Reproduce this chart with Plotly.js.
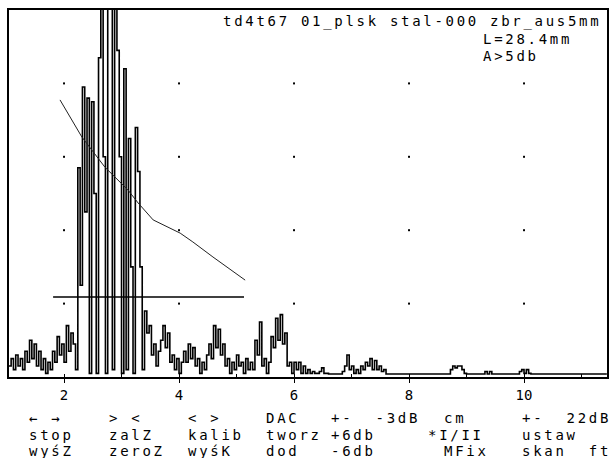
<!DOCTYPE html>
<html>
<head>
<meta charset="utf-8">
<script src="https://cdn.plot.ly/plotly-3.0.1.min.js"></script>
<style>
  html, body { margin:0; padding:0; background:#fff; }
  #chart { width:611px; height:458px; }
  .annotation-text { letter-spacing: 2.7px; }
</style>
</head>
<body>
<div id="chart"></div>
<script>
// ---- data ----
const sampleStart = 1.04;   // first sample position (axis units)
const sampleStep = 0.04;    // spacing between samples
const signal = [
  3,5,2,6,3, 5,2,7,4,10, 5,9,3,7,2, 5,1,4,2,7, 4,11,6,9,4, 14,7,12,9,
  2,57,25,79,45, 76,1,75,50,1, 87,110,60,1,110, 110,2,110,89,60, 1,84,2,65,30, 1,68,56,30,2,
  18,12,14,6,9, 3,7,10,14,8, 12,4,6,2,5, 1,4,7,4,9, 5,8,3,5,1, 4,2,6,9,5, 14,8,13,6,9, 3,5,1,4,2, 6,3,4,1,5, 2,
  4,2,10,6,15, 3,5,1,4,11, 8,16,10,17,9, 12,3,4,1,4, 2,4,1,3,1, 2,1,1.5,1,1, 1.5,2.5,1,1,0.8, 0.8,0.8,0.8,0.8,0.8,
  1.5,3,6,2,3, 1,2,1,3,2, 4,3,5,2,4.5, 2,3,1.5,2,0.8,
  0.8,0.8,0.8,0.8,0.8,0.8,0.8,0.8,0.8,0.8,0.8,0.8,0.8,0.8,0.8,0.8,0.8,0.8,0.8,0.8,0.8,0.8,0.8,0.8,0.8,0.8,0.8,
  2,3,2.5,3,3,2,1,0.8,
  0.8,0.8,0.8,0.8,0.8,0.8,0.8,
  1.5,0.8,1.5,0.8,
  0.8,0.8,0.8,0.8,0.8,0.8,0.8,0.8,0.8,0.8,0.8,
  1.5,2,1,2,1,
  0.8,0.8,0.8,0.8,0.8,0.8,0.8,0.8,0.8,0.8,0.8,0.8,0.8,0.8,0.8,0.8,0.8,
  0.8,0.8,0.8,0.8,0.8,0.8,0.8,0.8,0.8,0.8,0.8,0.8,0.8,0.8,0.8,0.8,0.8
];
const dacX = [1.93, 2.31, 2.71, 3.11, 3.29, 3.55, 4.02, 4.24, 4.59, 5.15];
const dacY = [75.5, 65.4, 57.2, 51.0, 47.4, 42.8, 39.2, 36.8, 32.7, 26.4];
const gateX = [1.81, 5.13];
const gateY = [21.8, 21.8];
const gridXs = [2, 4, 6, 8, 10];
const gridYs = [20, 40, 60, 80];
const tickVals = [2, 4, 6, 8, 10];
const tickText = ["2", "4", "6", "8", "10"];
const headerLines = ["td4t67 01_plsk stal-000 zbr_aus5mm", "L=28.4mm", "A>5db"];
const menuRow1 = ["← →", "> <", "< >", "DAC", "+-  -3dB", "cm", "+-  22dB"];
const menuRow2 = ["stop", "zalZ", "kalib", "tworz", "+6db", "*I/II", "ustaw"];
const menuRow3 = ["wyśZ", "zeroZ", "wyśK", "dod", "-6db", "MFix", "skan  ft"];

// ---- layout helpers ----
const L = 9, R = 607, T = 10, B = 377;
const W = 611, H = 458;
const px2x = p => (p - L) / (R - L);
const py2y = p => (B - p) / (B - T);
const FONT = {family: "DejaVu Sans Mono, monospace", size: 14, color: "#000"};

const gx = [], gy = [];
gridXs.forEach(x => gridYs.forEach(y => { gx.push(x); gy.push(y); }));

const traces = [
  {type: "scatter", mode: "lines", x0: sampleStart, dx: sampleStep, y: signal,
   line: {color: "#000", width: 1.6, shape: "hv"}, hoverinfo: "skip"},
  {type: "scatter", mode: "lines", x: dacX, y: dacY,
   line: {color: "#222", width: 1}, hoverinfo: "skip"},
  {type: "scatter", mode: "lines", x: gateX, y: gateY,
   line: {color: "#000", width: 1.6}, hoverinfo: "skip"},
  {type: "scatter", mode: "markers", x: gx, y: gy,
   marker: {symbol: "square", size: 2, color: "#000"}, hoverinfo: "skip"}
];

const ann = [];
const hdrPos = [[222, 21], [482, 39], [482, 56]];
headerLines.forEach((t, i) => ann.push({text: t, xref: "paper", yref: "paper",
  x: px2x(hdrPos[i][0]), y: py2y(hdrPos[i][1]), xanchor: "left", yanchor: "middle",
  align: "left", showarrow: false, font: FONT, borderpad: 0}));
const colX = [28, 108, 187, 265, 330, 443, 521];
const rowX2 = [28, 108, 187, 265, 330, 427, 521];
const rows = [[menuRow1, 418, colX], [menuRow2, 435, rowX2], [menuRow3, 451, colX]];
rows.forEach(([arr, yy, cx]) => arr.forEach((t, i) => ann.push({text: t, xref: "paper", yref: "paper",
  x: px2x(cx[i]), y: py2y(yy), xanchor: "left", yanchor: "middle", align: "left",
  showarrow: false, font: FONT, borderpad: 0})));

const layout = {
  width: W, height: H,
  margin: {l: L, r: W - R, t: T, b: H - B, pad: 0},
  paper_bgcolor: "#fff", plot_bgcolor: "#fff",
  showlegend: false,
  xaxis: {range: [1.043, 11.443], showgrid: false, zeroline: false,
          showline: true, mirror: true, linecolor: "#000", linewidth: 2,
          tickmode: "array", tickvals: tickVals, ticktext: tickText,
          ticks: "outside", ticklen: 4, tickwidth: 1, tickcolor: "#000",
          minor: {dtick: 1, ticks: "inside", ticklen: 3, tickcolor: "#000"},
          tickfont: FONT, fixedrange: true},
  yaxis: {range: [0, 100], showgrid: false, zeroline: false,
          showline: true, mirror: true, linecolor: "#000", linewidth: 2,
          showticklabels: false, ticks: "", fixedrange: true},
  annotations: ann
};

Plotly.newPlot("chart", traces, layout, {staticPlot: true, displayModeBar: false});
</script>
</body>
</html>
